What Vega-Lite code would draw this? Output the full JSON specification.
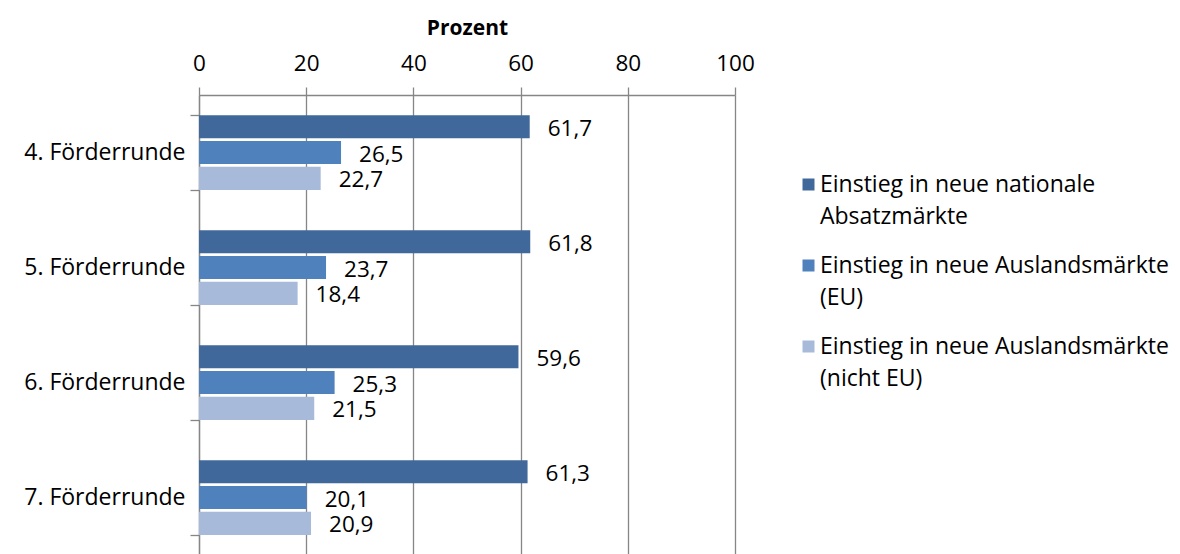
{
  "$schema": "https://vega.github.io/schema/vega-lite/v6.json",
  "width": 536,
  "height": 460,
  "autosize": {"type": "none"},
  "padding": {"left": 199, "top": 95, "right": 445, "bottom": 0},
  "background": "white",
  "config": {
    "font": "Open Sans",
    "view": {"stroke": null},
    "style": {"guide-label": {"lineHeight": 32}},
    "locale": {"number": {"decimal": ",", "thousands": ".", "grouping": [3], "currency": ["", " €"]}}
  },
  "data": {
    "values": [
      {"Runde": "4. Förderrunde", "Kategorie": "Einstieg in neue nationale Absatzmärkte", "Wert": 61.7},
      {"Runde": "4. Förderrunde", "Kategorie": "Einstieg in neue Auslandsmärkte (EU)", "Wert": 26.5},
      {"Runde": "4. Förderrunde", "Kategorie": "Einstieg in neue Auslandsmärkte (nicht EU)", "Wert": 22.7},
      {"Runde": "5. Förderrunde", "Kategorie": "Einstieg in neue nationale Absatzmärkte", "Wert": 61.8},
      {"Runde": "5. Förderrunde", "Kategorie": "Einstieg in neue Auslandsmärkte (EU)", "Wert": 23.7},
      {"Runde": "5. Förderrunde", "Kategorie": "Einstieg in neue Auslandsmärkte (nicht EU)", "Wert": 18.4},
      {"Runde": "6. Förderrunde", "Kategorie": "Einstieg in neue nationale Absatzmärkte", "Wert": 59.6},
      {"Runde": "6. Förderrunde", "Kategorie": "Einstieg in neue Auslandsmärkte (EU)", "Wert": 25.3},
      {"Runde": "6. Förderrunde", "Kategorie": "Einstieg in neue Auslandsmärkte (nicht EU)", "Wert": 21.5},
      {"Runde": "7. Förderrunde", "Kategorie": "Einstieg in neue nationale Absatzmärkte", "Wert": 61.3},
      {"Runde": "7. Förderrunde", "Kategorie": "Einstieg in neue Auslandsmärkte (EU)", "Wert": 20.1},
      {"Runde": "7. Förderrunde", "Kategorie": "Einstieg in neue Auslandsmärkte (nicht EU)", "Wert": 20.9}
    ]
  },
  "encoding": {
    "y": {
      "field": "Runde", "type": "nominal", "title": null,
      "scale": {"paddingInner": 0.35, "paddingOuter": 0.175},
      "axis": {
        "orient": "left", "domainColor": "#868686", "domainWidth": 1.3,
        "tickBand": "extent", "tickColor": "#868686", "tickSize": 9, "tickWidth": 1.3,
        "labelFont": "Open Sans", "labelFontSize": 23, "labelColor": "#000000", "labelPadding": 5
      }
    },
    "x": {
      "field": "Wert", "type": "quantitative",
      "scale": {"domain": [0, 100], "nice": false},
      "axis": {
        "orient": "top", "title": "Prozent", "values": [0, 20, 40, 60, 80, 100], "labelFlush": false,
        "titleFont": "Open Sans", "titleFontSize": 21, "titleFontWeight": "bold", "titleColor": "#000000", "titlePadding": 14,
        "labelFont": "Open Sans", "labelFontSize": 22.5, "labelColor": "#000000", "labelPadding": 12,
        "domainColor": "#868686", "domainWidth": 1.3,
        "tickColor": "#868686", "tickSize": 8, "tickWidth": 1.3,
        "grid": true, "gridColor": "#868686", "gridWidth": 1.3
      }
    },
    "yOffset": {
      "field": "Kategorie", "type": "nominal",
      "sort": ["Einstieg in neue nationale Absatzmärkte", "Einstieg in neue Auslandsmärkte (EU)", "Einstieg in neue Auslandsmärkte (nicht EU)"],
      "scale": {"paddingInner": 0.1, "paddingOuter": 0}
    }
  },
  "layer": [
    {
      "mark": {"type": "bar"},
      "encoding": {
        "color": {
          "field": "Kategorie", "type": "nominal",
          "sort": ["Einstieg in neue nationale Absatzmärkte", "Einstieg in neue Auslandsmärkte (EU)", "Einstieg in neue Auslandsmärkte (nicht EU)"],
          "scale": {"range": ["#41689A", "#4F81BD", "#A8BADA"]},
          "legend": {
            "title": null, "orient": "none", "legendX": 598, "legendY": 78, "padding": 0,
            "symbolType": "square", "symbolSize": 144, "symbolStrokeWidth": 0,
            "labelFont": "Open Sans", "labelFontSize": 23, "labelColor": "#000000", "labelOffset": 0,
            "labelLimit": 500, "rowPadding": 25,
            "labelExpr": "datum.label == 'Einstieg in neue nationale Absatzmärkte' ? ['Einstieg in neue nationale', 'Absatzmärkte'] : datum.label == 'Einstieg in neue Auslandsmärkte (EU)' ? ['Einstieg in neue Auslandsmärkte', '(EU)'] : ['Einstieg in neue Auslandsmärkte', '(nicht EU)']"
          }
        }
      }
    },
    {
      "mark": {"type": "text", "align": "left", "baseline": "middle", "dx": 18, "dy": 2, "fontSize": 22.5, "font": "Open Sans", "color": "#000000"},
      "encoding": {"text": {"field": "Wert", "type": "quantitative", "format": ".1f"}}
    }
  ]
}
